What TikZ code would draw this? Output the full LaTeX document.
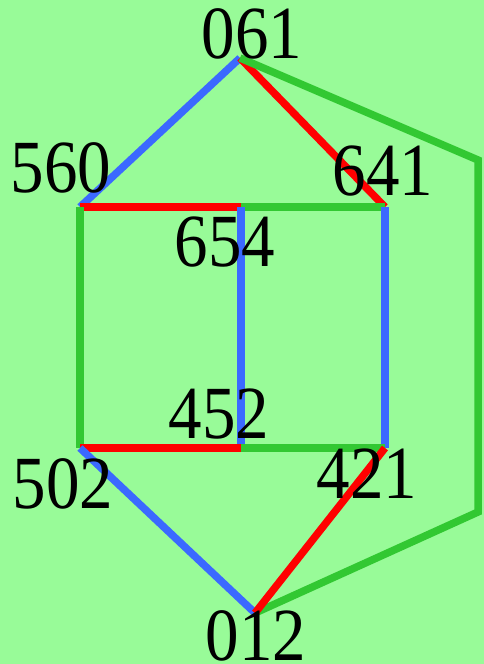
\documentclass[tikz,border=0pt]{standalone}
\usepackage{fontspec}
\setmainfont{Liberation Serif}
\usepackage{xcolor}
\usepackage{graphicx}
\usepackage{tikz}
\usetikzlibrary{positioning}
\definecolor{PaleBack}{RGB}{152, 251, 152}
\definecolor{EdgeBlue}{RGB}{59, 105, 255}
\definecolor{EdgeRed}{RGB}{255, 0, 0}
\definecolor{EdgeGreen}{RGB}{50, 200, 50}
\newcommand{\tallnum}[1]{\scalebox{1}[1.12]{#1}}
\tikzset{
    edge/.style={line width=7.5pt, line cap=butt},
    vlabel/.style={anchor=base, inner sep=0pt, font=\fontsize{67}{72}\selectfont}
}

\begin{document}
\begin{tikzpicture}[x=1pt, y=-1pt]
    \fill[PaleBack] (0,0) rectangle (484,664);
    \useasboundingbox (0,0) rectangle (484,664);
    % vertices
    \coordinate (v061) at (240,58);
    \coordinate (v560) at (80,207);
    \coordinate (v641) at (385,207);
    \coordinate (v654) at (241,207);
    \coordinate (v452) at (241,448);
    \coordinate (v502) at (80,448);
    \coordinate (v421) at (385,448);
    \coordinate (v012) at (255,613);
    \coordinate (bendtop) at (478,160);
    \coordinate (bendbot) at (478,512);
    % edges
    \draw[edge, EdgeBlue] (v061) -- (v560);
    \draw[edge, EdgeRed] (v061) -- (v641);
    \draw[edge, EdgeGreen] (v061) -- (bendtop) -- (bendbot) -- (v012);
    \draw[edge, EdgeRed] (v560) -- (v654);
    \draw[edge, EdgeGreen] (v654) -- (v641);
    \draw[edge, EdgeGreen] (v560) -- (v502);
    \draw[edge, EdgeBlue] (v654) -- (v452);
    \draw[edge, EdgeBlue] (v641) -- (v421);
    \draw[edge, EdgeRed] (v502) -- (v452);
    \draw[edge, EdgeGreen] (v452) -- (v421);
    \draw[edge, EdgeBlue] (v502) -- (v012);
    \draw[edge, EdgeRed] (v421) -- (v012);
    % labels
    \node[vlabel] (l061) at (252,58) {\tallnum{061}};
    \node[vlabel] (l560) at (61,192) {\tallnum{560}};
    \node[vlabel] (l641) at (383,195) {\tallnum{641}};
    \node[vlabel] (l654) at (225,266) {\tallnum{654}};
    \node[vlabel] (l452) at (219,438) {\tallnum{452}};
    \node[vlabel] (l502) at (63,508) {\tallnum{502}};
    \node[vlabel] (l421) at (367,498) {\tallnum{421}};
    \node[vlabel] (l012) at (256,660) {\tallnum{012}};
\end{tikzpicture}
\end{document}
